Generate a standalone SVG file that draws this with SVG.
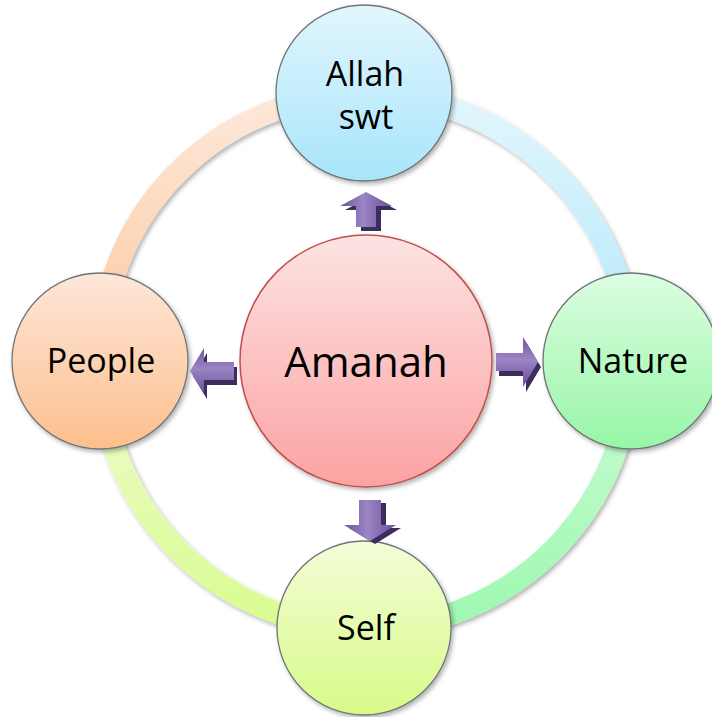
<svg xmlns="http://www.w3.org/2000/svg" width="712" height="717" viewBox="0 0 712 717">
<defs>
<style>
.lbl{font-family:"Open Sans","Noto Sans","Liberation Sans",sans-serif;fill:#000;text-anchor:middle}
.sat{font-size:34px}
.ctr{font-size:42px}
.node{stroke:#6f7478;stroke-width:1.3}
.arc{fill:none;stroke-width:22}
.ash{fill:#3d2d5c}
</style>
<filter id="sh" x="-20%" y="-20%" width="140%" height="140%">
<feDropShadow dx="2" dy="2.5" stdDeviation="2" flood-color="#000" flood-opacity="0.3"/>
</filter>
<linearGradient id="gTL" x1="0" y1="0" x2="0" y2="1"><stop offset="0" stop-color="#fde9dc"/><stop offset="1" stop-color="#fdc89c"/></linearGradient>
<linearGradient id="gTR" x1="0" y1="0" x2="0" y2="1"><stop offset="0" stop-color="#e2f6fd"/><stop offset="1" stop-color="#b3e8fb"/></linearGradient>
<linearGradient id="gBR" x1="0" y1="0" x2="0" y2="1"><stop offset="0" stop-color="#cbfcd5"/><stop offset="1" stop-color="#9ef8b0"/></linearGradient>
<linearGradient id="gBL" x1="0" y1="0" x2="0" y2="1"><stop offset="0" stop-color="#eefcd0"/><stop offset="1" stop-color="#dafc90"/></linearGradient>
<linearGradient id="nTop" x1="0" y1="0" x2="0" y2="1"><stop offset="0" stop-color="#e1f6fd"/><stop offset="1" stop-color="#a8e5fb"/></linearGradient>
<linearGradient id="nLeft" x1="0" y1="0" x2="0" y2="1"><stop offset="0" stop-color="#fde7d8"/><stop offset="1" stop-color="#fdbf8c"/></linearGradient>
<linearGradient id="nRight" x1="0" y1="0" x2="0" y2="1"><stop offset="0" stop-color="#dcfde1"/><stop offset="1" stop-color="#97f6a6"/></linearGradient>
<linearGradient id="nBot" x1="0" y1="0" x2="0" y2="1"><stop offset="0" stop-color="#f3fdd8"/><stop offset="1" stop-color="#d8fa88"/></linearGradient>
<linearGradient id="nCtr" x1="0" y1="0" x2="0" y2="1"><stop offset="0" stop-color="#fde3e3"/><stop offset="1" stop-color="#fca2a2"/></linearGradient>
<linearGradient id="aH" x1="0" y1="0" x2="0" y2="1"><stop offset="0" stop-color="#6f559f"/><stop offset="0.45" stop-color="#9b85c4"/><stop offset="1" stop-color="#684e98"/></linearGradient>
<linearGradient id="aV" x1="0" y1="0" x2="1" y2="0"><stop offset="0" stop-color="#6f559f"/><stop offset="0.45" stop-color="#9b85c4"/><stop offset="1" stop-color="#684e98"/></linearGradient>
</defs>
<rect width="712" height="717" fill="#fff"/>
<g id="connectors">
<g id="ring" filter="url(#sh)">
<path class="arc" stroke="url(#gTL)" d="M 100 361 A 266 266 0 0 1 365 94"/>
<path class="arc" stroke="url(#gTR)" d="M 365 94 A 266 266 0 0 1 631 361"/>
<path class="arc" stroke="url(#gBR)" d="M 631 361 A 266 266 0 0 1 365 628"/>
<path class="arc" stroke="url(#gBL)" d="M 365 628 A 266 266 0 0 1 100 361"/>
</g>
</g>
<g id="node-allah">
<circle class="node" cx="364" cy="93" r="88" fill="url(#nTop)" filter="url(#sh)"/>
<text class="lbl sat" x="365" y="86">Allah</text>
<text class="lbl sat" x="366" y="129">swt</text>
</g>
<g id="node-people">
<circle class="node" cx="100" cy="361" r="88" fill="url(#nLeft)" filter="url(#sh)"/>
<text class="lbl sat" x="101" y="373">People</text>
</g>
<g id="node-nature">
<circle class="node" cx="631" cy="361" r="88" fill="url(#nRight)" filter="url(#sh)"/>
<text class="lbl sat" x="633" y="373">Nature</text>
</g>
<g id="node-self">
<circle class="node" cx="364" cy="628" r="87" fill="url(#nBot)" filter="url(#sh)"/>
<text class="lbl sat" x="366" y="640">Self</text>
</g>
<g id="node-amanah">
<circle cx="366" cy="361" r="126" fill="url(#nCtr)" stroke="#c0504d" stroke-width="1.5" filter="url(#sh)"/>
<text class="lbl ctr" x="366" y="377">Amanah</text>
</g>
<g id="arrows">
<g id="arrow-up">
<path class="ash" transform="translate(5,4)" d="M366 192 L392 206 L376 206 L376 227 L356 227 L356 206 L340 206 Z"/>
<path fill="url(#aV)" d="M366 192 L392 206 L376 206 L376 227 L356 227 L356 206 L340 206 Z"/>
</g>
<g id="arrow-left">
<path class="ash" transform="translate(3,5)" d="M190 371 L204 348 L204 362 L234 362 L234 380 L204 380 L204 394 Z"/>
<path fill="url(#aH)" d="M190 371 L204 348 L204 362 L234 362 L234 380 L204 380 L204 394 Z"/>
</g>
<g id="arrow-right">
<path class="ash" transform="translate(3,5)" d="M538 362 L523 337 L523 353 L496 353 L496 371 L523 371 L523 387 Z"/>
<path fill="url(#aH)" d="M538 362 L523 337 L523 353 L496 353 L496 371 L523 371 L523 387 Z"/>
</g>
<g id="arrow-down">
<path class="ash" transform="translate(5,3)" d="M370 541 L344 525 L359 525 L359 500 L381 500 L381 525 L396 525 Z"/>
<path fill="url(#aV)" d="M370 541 L344 525 L359 525 L359 500 L381 500 L381 525 L396 525 Z"/>
</g>
</g>
</svg>
